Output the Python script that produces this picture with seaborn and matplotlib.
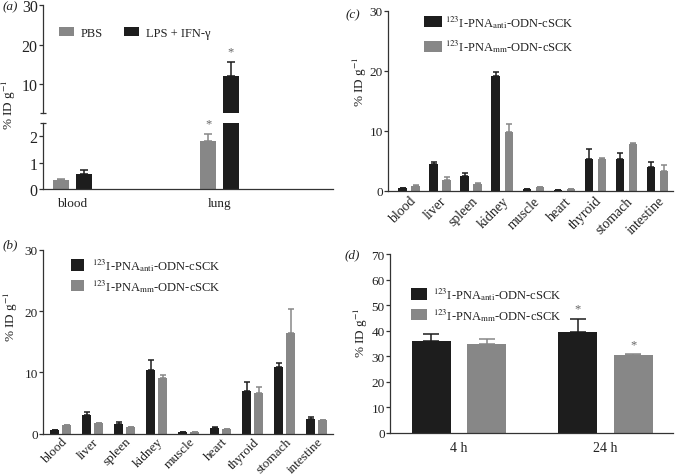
import numpy as np
import pandas as pd
import matplotlib
matplotlib.use('Agg')
import matplotlib.pyplot as plt
import seaborn as sns
from matplotlib.patches import Patch

sns.set_style('ticks')
plt.rcParams['font.family'] = ['Liberation Serif', 'DejaVu Serif']
plt.rcParams['mathtext.fontset'] = 'stix'
plt.rcParams['font.size'] = 9

BLACK = '#1d1d1d'
GRAY = '#878787'
TXT = '#222222'

# ---------------- data ----------------
a_tissues = ['blood', 'lung']
a_groups = ['PBS', 'LPS + IFN-γ']
a_pbs = [0.33, 1.83]
a_pbs_up = [0.38, 2.10]
a_lps = [0.57, 12.1]
a_lps_up = [0.73, 15.7]

organs = ['blood', 'liver', 'spleen', 'kidney', 'muscle', 'heart',
          'thyroid', 'stomach', 'intestine']
probe_names = [r'$^{123}$I-PNA$_{\mathrm{anti}}$-ODN-cSCK',
               r'$^{123}$I-PNA$_{\mathrm{mm}}$-ODN-cSCK']

b_anti = [0.65, 3.1, 1.6, 10.4, 0.33, 1.0, 7.0, 10.9, 2.45]
b_anti_up = [0.65, 3.6, 1.85, 12.0, 0.33, 1.1, 8.4, 11.6, 2.8]
b_mm = [1.45, 1.8, 1.1, 9.1, 0.33, 0.7, 6.6, 16.4, 2.3]
b_mm_up = [1.5, 1.8, 1.1, 9.6, 0.33, 0.7, 7.55, 20.3, 2.3]

c_anti = [0.44, 4.5, 2.55, 19.1, 0.33, 0.22, 5.3, 5.4, 4.05]
c_anti_up = [0.5, 4.9, 3.0, 19.8, 0.35, 0.25, 7.0, 6.4, 4.8]
c_mm = [0.9, 1.8, 1.1, 9.9, 0.67, 0.28, 5.4, 7.9, 3.3]
c_mm_up = [0.95, 2.4, 1.3, 11.1, 0.7, 0.3, 5.45, 8.0, 4.4]

times = ['4 h', '24 h']
d_anti = [36.0, 39.6]
d_anti_up = [38.7, 44.6]
d_mm = [34.8, 30.4]
d_mm_up = [36.8, 30.8]

W, H = 676, 477
fig = plt.figure(figsize=(W / 100, H / 100), dpi=100)


def pos(x0, x1, y0, y1):
    return [x0 / W, 1 - y1 / H, (x1 - x0) / W, (y1 - y0) / H]


def fxy(x, y):
    return (x / W, 1 - y / H)


def style(ax, ysize=9.5, xsize=9.5):
    sns.despine(ax=ax)
    for s in ['left', 'bottom']:
        ax.spines[s].set_linewidth(0.9)
        ax.spines[s].set_color('#333333')
    ax.tick_params(axis='y', direction='out', length=3, width=0.9,
                   colors='#333333', labelcolor=TXT, pad=0.8,
                   labelsize=ysize)
    ax.tick_params(axis='x', length=0, labelcolor=TXT, pad=6,
                   labelsize=xsize)
    ax.set_xlabel('')
    ax.set_ylabel('')


def bars(ax, cats, names, vals, ups, colors, width, gap, capsize):
    rows = []
    for n, v in zip(names, vals):
        for c, val in zip(cats, v):
            rows.append({'cat': c, 'grp': n, 'val': val})
    df = pd.DataFrame(rows)
    sns.barplot(data=df, x='cat', y='val', hue='grp', order=cats,
                hue_order=names, palette=dict(zip(names, colors)),
                width=width, gap=gap, errorbar=None, legend=False,
                saturation=1, linewidth=0, ax=ax)
    conts = list(ax.containers)
    centers = []
    for cont, up, col in zip(conts, ups, colors):
        xs = np.array([p.get_x() + p.get_width() / 2 for p in cont.patches])
        hs = np.array([p.get_height() for p in cont.patches])
        err = np.clip(np.array(up) - hs, 0, None)
        ax.errorbar(xs, hs, yerr=[np.zeros_like(err), err], fmt='none',
                    ecolor=col, elinewidth=1.1, capsize=capsize,
                    capthick=1.1)
        centers.append(xs)
    return centers


def legend(ax, colors, labels, x, y, hl, hh, htp, ls, ncol=1, cs=1.0):
    handles = [Patch(facecolor=c, edgecolor='none') for c in colors]
    ax.legend(handles, labels, loc='upper left', bbox_to_anchor=fxy(x, y),
              bbox_transform=fig.transFigure, frameon=False, borderpad=0,
              borderaxespad=0, handlelength=hl, handleheight=hh,
              handletextpad=htp, labelspacing=ls, ncol=ncol,
              columnspacing=cs, fontsize=9, labelcolor=TXT)


def rot(ax, pad=2):
    ax.tick_params(axis='x', rotation=45, pad=pad)
    for t in ax.get_xticklabels():
        t.set_ha('right')
        t.set_rotation_mode('anchor')


# ---------------- panel (a): broken axis ----------------
ax_top = fig.add_axes(pos(43, 333, 6, 114))
ax_bot = fig.add_axes(pos(43, 333, 124, 190))
for ax in (ax_top, ax_bot):
    cen = bars(ax, a_tissues, a_groups, [a_pbs, a_lps], [a_pbs_up, a_lps_up],
               [GRAY, BLACK], 0.306, 0.29, 3)
    style(ax, ysize=11.5, xsize=9.5)
    ax.set_xlim(-0.2, 1.77)
ax_top.set_ylim(2.7, 30)
ax_top.set_yticks([10, 20, 30])
ax_top.set_yticks([2.7], minor=True)
ax_top.spines['bottom'].set_visible(False)
ax_top.tick_params(axis='x', labelbottom=False)
ax_bot.set_ylim(0, 2.5)
ax_bot.set_yticks([0, 1, 2])
ax_bot.set_yticks([2.5], minor=True)
for ax in (ax_top, ax_bot):
    ax.tick_params(axis='y', which='minor', direction='inout', length=5,
                   width=0.9, colors='#333333')
ax_bot.annotate('*', (cen[0][1], a_pbs_up[1]), xytext=(0, 3),
                textcoords='offset points', ha='center', va='bottom',
                color='#666666', fontsize=9)
ax_top.annotate('*', (cen[1][1], a_lps_up[1]), xytext=(0, 3),
                textcoords='offset points', ha='center', va='bottom',
                color='#666666', fontsize=9)
legend(ax_top, [GRAY, BLACK], a_groups, 59, 28, 1.2, 0.72, 0.56, 0.5,
       ncol=2, cs=1.68)

# ---------------- panel (b) ----------------
ax_b = fig.add_axes(pos(43, 333, 250.7, 434.7))
bars(ax_b, organs, probe_names, [b_anti, b_mm], [b_anti_up, b_mm_up],
     [BLACK, GRAY], 0.75, 0.25, 2.5)
style(ax_b, xsize=9.5)
ax_b.set_xlim(-0.56, 8.5)
ax_b.set_ylim(0, 30)
ax_b.set_yticks([0, 10, 20, 30])
rot(ax_b, pad=1)
legend(ax_b, [BLACK, GRAY], probe_names, 71, 257, 1.04, 1.04, 0.64, 0.3)

# ---------------- panel (c) ----------------
ax_c = fig.add_axes(pos(388, 673, 12, 192))
bars(ax_c, organs, probe_names, [c_anti, c_mm], [c_anti_up, c_mm_up],
     [BLACK, GRAY], 0.84, 0.35, 2.5)
style(ax_c, xsize=10)
ax_c.set_xlim(-0.68, 8.5)
ax_c.set_ylim(0, 30)
ax_c.set_yticks([0, 10, 20, 30])
rot(ax_c)
legend(ax_c, [BLACK, GRAY], probe_names, 424, 14, 1.44, 0.96, 0.24, 0.6)

# ---------------- panel (d) ----------------
ax_d = fig.add_axes(pos(390, 673, 255, 434))
cen_d = bars(ax_d, times, probe_names, [d_anti, d_mm], [d_anti_up, d_mm_up],
             [BLACK, GRAY], 0.758, 0.30, 6)
style(ax_d, ysize=9.5, xsize=10)
ax_d.set_xlim(-0.47, 1.46)
ax_d.set_ylim(0, 70)
ax_d.set_yticks(np.arange(0, 71, 10))
for k, (xs, up) in enumerate(zip(cen_d, [d_anti_up, d_mm_up])):
    ax_d.annotate('*', (xs[1], up[1]), xytext=(0, 3),
                  textcoords='offset points', ha='center', va='bottom',
                  color='#666666', fontsize=9)
legend(ax_d, [BLACK, GRAY], probe_names, 411, 286, 1.28, 1.04, 0.48, 0.3)

# ---------------- labels ----------------
for (x, y) in [(9, 105), (11, 317), (360, 82), (361, 333)]:
    fig.text(*fxy(x, y), '% ID g$^{-1}$', rotation=90, ha='center',
             va='center', color=TXT, fontsize=9.5)
for (x, y, l) in [(10, 7, 'a'), (10, 245, 'b'), (353, 15, 'c'), (352, 255, 'd')]:
    fig.text(*fxy(x, y), '(' + l + ')', ha='center', va='center',
             color=TXT, fontsize=9.5, style='italic')

fig.savefig('out.png', dpi=100)
